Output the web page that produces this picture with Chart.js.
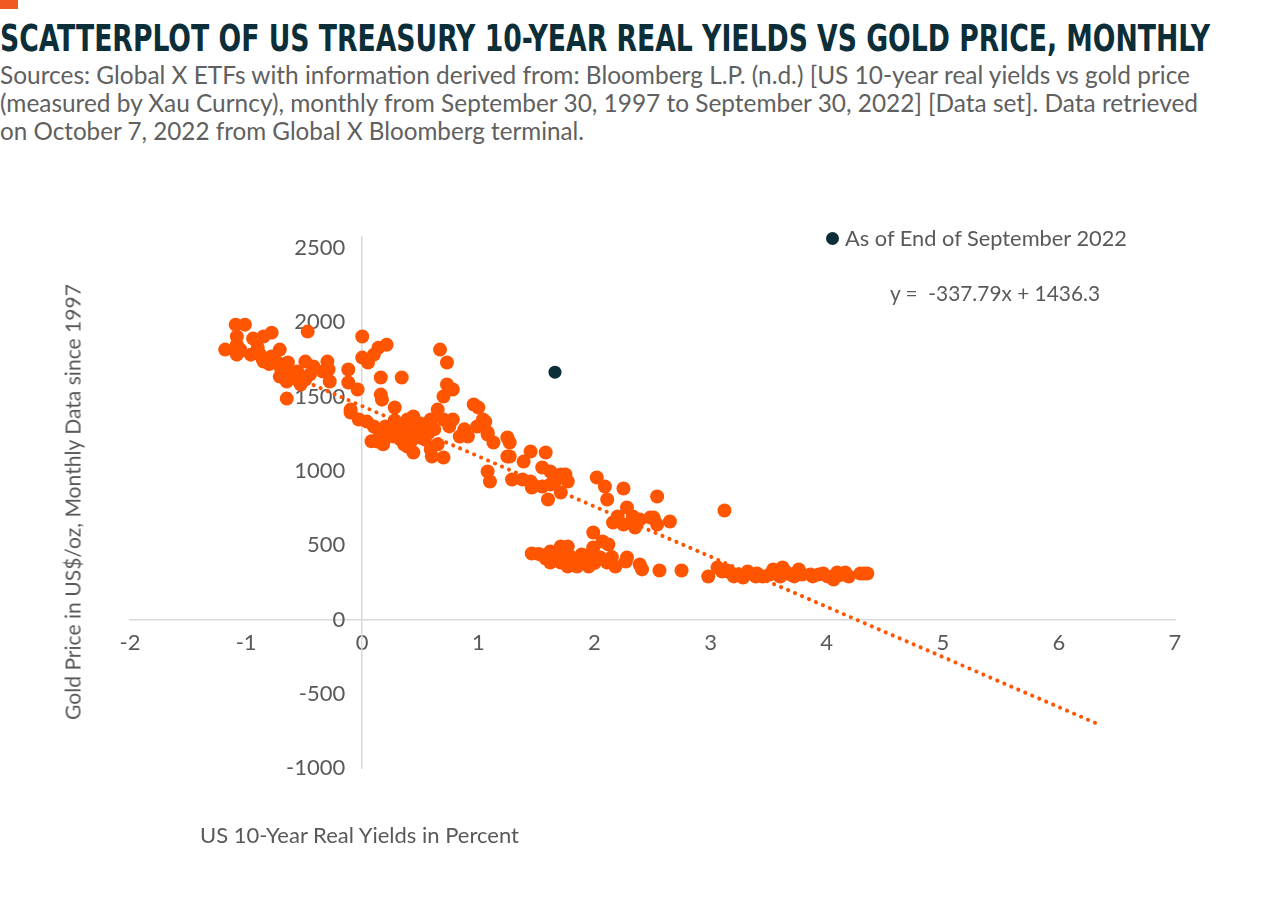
<!DOCTYPE html>
<html lang="en">
<head>
  <meta charset="UTF-8">
  <title>Scatterplot of US Treasury 10-Year Real Yields vs Gold Price, Monthly</title>
  <script src="https://cdn.jsdelivr.net/npm/chart.js@4.4.2/dist/chart.umd.min.js"></script>
  <style>
    html, body { margin: 0; padding: 0; background: #fff; }
    body {
      width: 1280px; height: 906px; position: relative; overflow: hidden;
      font-family: Lato, 'Open Sans', sans-serif;
    }
    #chartBox { position: absolute; left: 0; top: 0; }
    .txt { position: absolute; white-space: pre; line-height: 1; transform-origin: 0 50%; }
    #flag { position: absolute; left: 0; top: 0; width: 18px; height: 9px; background: #f15a22; }
    #title {
      font-family: 'Liberation Sans Narrow', 'DejaVu Sans Condensed', Roboto, sans-serif;
      font-weight: 700; font-size: 37px; color: #0b2e38;
    }
    .sub { font-size: 25px; color: #606060; }
    .lbl { font-size: 22px; color: #595959; }
    #dot { position: absolute; left: 826px; top: 232px; width: 13px; height: 13px; border-radius: 50%; background: #0b2e38; }
  </style>
</head>
<body>
  <div id="flag"></div>
  <div id="title" class="txt">SCATTERPLOT OF US TREASURY 10-YEAR REAL YIELDS VS GOLD PRICE, MONTHLY</div>
  <div id="sub1" class="txt sub">Sources: Global X ETFs with information derived from: Bloomberg L.P. (n.d.) [US 10-year real yields vs gold price</div>
  <div id="sub2" class="txt sub">(measured by Xau Curncy), monthly from September 30, 1997 to September 30, 2022] [Data set]. Data retrieved</div>
  <div id="sub3" class="txt sub">on October 7, 2022 from Global X Bloomberg terminal.</div>

  <canvas id="chartBox" width="1280" height="906"></canvas>

  <div id="dot"></div>
  <div id="legendTxt" class="txt lbl">As of End of September 2022</div>
  <div id="eqTxt" class="txt lbl">y =  -337.79x + 1436.3</div>
  <div id="xTitle" class="txt lbl">US 10-Year Real Yields in Percent</div>
  <div id="yTitle" class="txt lbl">Gold Price in US$/oz, Monthly Data since 1997</div>

  <script>
    // US 10-year real yield (%) for each month, Sep 1997 - Sep 2022
    const yields = [
      // below zero, gold high
      -1.09, -1.01, -1.18, -1.08, -1.08, -1.05, -1.08, -0.94, -0.85, -0.78,
      -0.96, -0.88, -0.85, -0.78, -0.71, -0.73, -0.64, -0.71, -0.65, -0.56,
      -0.65, -0.56, -0.49, -0.53, -0.65, -0.47, -0.49, -0.42, -0.34, -0.30,
      -0.29, -0.28, -0.12, -0.12, -0.04, 0.00, -0.10, -0.90, -0.80, -0.70,
      -0.60, -0.45,
      // 0 to ~1.3
      0.00, 0.05, 0.10, 0.14, 0.21, -0.10, -0.03, 0.04, 0.10, 0.13,
      0.16, 0.16, 0.17, 0.28, 0.34, 0.24, 0.33, 0.39, 0.44, 0.41,
      0.47, 0.39, 0.44, 0.54, 0.59, 0.60, 0.70, 0.53, 0.59, 0.65,
      0.67, 0.73, 0.73, 0.78, 0.70, 0.70, 0.78, 0.84, 0.91, 0.96,
      1.00, 1.04, 0.99, 1.08, 1.13, 1.25, 1.25, 0.27, 0.33, 0.22,
      0.50, 0.35, 1.08, 1.10, 0.20, 0.30, 0.36, 0.45, 0.50, 0.28,
      0.42, 0.55, 0.62, 0.15, 0.08, 0.18, 0.65, 0.75, 0.88,
      // upper band 1 - 3.2
      1.06, 1.08, 1.27, 1.27, 1.39, 1.45, 1.58, 1.29, 1.38, 1.45,
      1.46, 1.55, 1.62, 1.55, 1.62, 1.71, 1.75, 1.77, 1.66, 1.71,
      1.60, 2.02, 2.09, 2.25, 2.11, 2.54, 2.28, 2.20, 2.16, 2.25,
      2.33, 2.39, 2.51, 2.54, 2.35, 2.65, 2.48, 3.12,
      // lower band (late 1990s / early 2000s)
      1.46, 1.56, 1.62, 1.68, 1.73, 1.77, 1.71, 1.77, 1.83, 1.89,
      1.95, 1.98, 1.99, 1.99, 2.07, 2.12, 2.05, 2.11, 2.18, 2.27,
      2.28, 2.39, 2.41, 2.56, 2.75, 1.62, 1.85, 1.71, 1.65, 1.80,
      1.92, 2.00, 1.58, 1.75, 2.15, 1.52,
      // high yields, gold ~300
      2.98, 3.06, 3.10, 3.17, 3.23, 3.28, 3.32, 3.39, 3.45, 3.51,
      3.54, 3.62, 3.60, 3.69, 3.76, 3.79, 3.86, 3.93, 4.01, 4.06,
      4.09, 4.16, 4.19, 4.29, 4.35, 3.14, 4.32, 3.30, 3.40, 3.65,
      3.72, 3.88, 3.97, 4.12, 3.20, 3.58
    ];
    // gold price US$/oz, same order as yields
    const gold = [
      1985, 1985, 1817, 1905, 1850, 1817, 1783, 1891, 1905, 1931,
      1783, 1783, 1736, 1770, 1817, 1730, 1730, 1635, 1662, 1669,
      1602, 1615, 1615, 1582, 1487, 1938, 1736, 1703, 1669, 1736,
      1683, 1602, 1683, 1595, 1548, 1905, 1413, 1830, 1720, 1690,
      1640, 1650,

      1763, 1730, 1783, 1830, 1850, 1393, 1346, 1332, 1299, 1198,
      1629, 1514, 1480, 1427, 1629, 1279, 1279, 1346, 1366, 1232,
      1279, 1164, 1124, 1211, 1144, 1097, 1090, 1299, 1346, 1413,
      1817, 1730, 1582, 1548, 1501, 1346, 1346, 1232, 1232, 1447,
      1427, 1346, 1299, 1259, 1191, 1225, 1097, 1232, 1211, 1232,
      1225, 1299, 996, 929, 1300, 1250, 1180, 1260, 1320, 1340,
      1200, 1250, 1280, 1250, 1200, 1180, 1180, 1300, 1280,

      1332, 1245, 1191, 1097, 1063, 1131, 1124, 942, 942, 929,
      888, 1023, 996, 895, 909, 976, 976, 929, 929, 855,
      808, 956, 895, 882, 808, 828, 754, 693, 653, 639,
      693, 673, 686, 639, 619, 660, 686, 734,

      444, 431, 458, 424, 458, 491, 384, 357, 404, 437,
      357, 451, 485, 586, 525, 505, 417, 384, 357, 390,
      417, 370, 337, 330, 330, 384, 357, 491, 440, 420,
      400, 380, 410, 440, 420, 440,

      289, 350, 323, 316, 303, 283, 323, 289, 289, 303,
      337, 350, 289, 303, 337, 303, 303, 303, 289, 269,
      316, 316, 289, 309, 309, 330, 309, 300, 310, 320,
      290, 290, 310, 300, 290, 300
    ];
    const latestYield = [1.66];
    const latestGold = [1665];

    // linear trendline y = -337.79x + 1436.3, drawn over the data range plus forecast
    const trendSlope = -337.79;
    const trendIntercept = 1436.3;
    const trendX = [-1.2, 6.33];

    const xTicks = [-2, -1, 0, 1, 2, 3, 4, 5, 6, 7];
    const yTicks = [-1000, -500, 0, 500, 1000, 1500, 2000, 2500];

    const orange = '#ff5500';
    const navy = '#0b2e38';
    const tickFont = { family: 'Lato', size: 22 };

    new Chart(document.getElementById('chartBox'), {
      type: 'scatter',
      data: {
        datasets: [
          {
            label: 'As of End of September 2022',
            data: latestYield.map((x, i) => ({ x, y: latestGold[i] })),
            backgroundColor: navy,
            borderWidth: 0,
            pointRadius: 6.5,
            order: -1
          },
          {
            label: 'Trend',
            data: trendX.map(x => ({ x, y: trendSlope * x + trendIntercept })),
            showLine: true,
            borderColor: orange,
            borderWidth: 4,
            borderDash: [0.1, 7.5],
            borderCapStyle: 'round',
            pointRadius: 0,
            order: 0
          },
          {
            label: 'Monthly',
            data: yields.map((x, i) => ({ x, y: gold[i] })),
            backgroundColor: orange,
            borderWidth: 0,
            pointRadius: 7,
            order: 1
          }
        ]
      },
      options: {
        responsive: false,
        animation: false,
        layout: { padding: { left: 130, right: 105, top: 237, bottom: 138 } },
        plugins: { legend: { display: false }, tooltip: { enabled: false } },
        scales: {
          x: {
            type: 'linear',
            position: { y: 0 },
            min: -2,
            max: 7,
            afterBuildTicks: s => { s.ticks = xTicks.map(v => ({ value: v })); },
            grid: { display: false, drawTicks: false },
            border: { color: '#d9d9d9', width: 1.5 },
            ticks: { color: '#595959', font: tickFont, padding: 10, maxRotation: 0, callback: v => String(v) }
          },
          y: {
            type: 'linear',
            position: { x: 0 },
            min: -1000,
            max: 2575,
            afterBuildTicks: s => { s.ticks = yTicks.map(v => ({ value: v })); },
            grid: { display: false, drawTicks: false },
            border: { color: '#d9d9d9', width: 1.5 },
            // padding is ignored for an axis placed at a value, so pad with spaces
            ticks: { color: '#595959', font: tickFont, callback: v => v + '   ' }
          }
        }
      }
    });

    // text placement: squeeze each line to the width it has in the original
    function place(id, left, cy, width) {
      const el = document.getElementById(id);
      const r = el.getBoundingClientRect();
      el.style.left = left + 'px';
      el.style.top = (cy - r.height / 2) + 'px';
      el.style.transform = 'scaleX(' + (width / r.width) + ')';
    }
    place('title', 0, 38, 1210);
    place('sub1', 0, 74, 1190);
    place('sub2', 0, 102, 1198);
    place('sub3', 0, 130, 584);
    place('legendTxt', 845, 238, 282);
    place('eqTxt', 890, 293, 210);
    place('xTitle', 200, 835, 319);

    const yt = document.getElementById('yTitle');
    const yr = yt.getBoundingClientRect();
    yt.style.left = (73 - yr.width / 2) + 'px';
    yt.style.top = (502 - yr.height / 2) + 'px';
    yt.style.transformOrigin = '50% 50%';
    yt.style.transform = 'rotate(-90deg) scaleX(' + (436 / yr.width) + ')';
  </script>
</body>
</html>
